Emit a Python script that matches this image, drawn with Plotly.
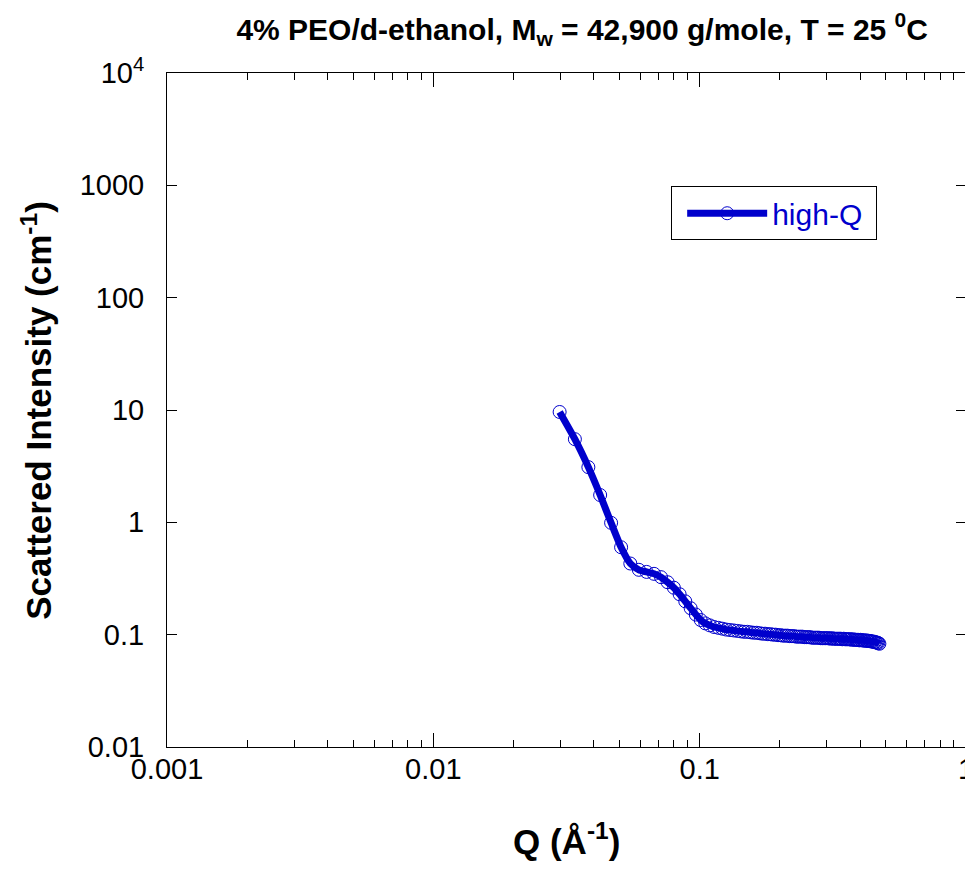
import plotly.graph_objects as go

# Data
q_values = [
    0.0298, 0.0340, 0.0382, 0.0423, 0.0465, 0.0507, 0.0549, 0.0591, 0.0632, 0.0674,
    0.0716, 0.0758, 0.0800, 0.0841, 0.0883, 0.0925, 0.0967, 0.1009, 0.1050, 0.1092,
    0.1134, 0.1176, 0.1218, 0.1259, 0.1301, 0.1343, 0.1385, 0.1427, 0.1468, 0.1510,
    0.1552, 0.1594, 0.1636, 0.1677, 0.1719, 0.1761, 0.1803, 0.1845, 0.1886, 0.1928,
    0.1970, 0.2012, 0.2054, 0.2095, 0.2137, 0.2179, 0.2221, 0.2263, 0.2304, 0.2346,
    0.2388, 0.2430, 0.2472, 0.2513, 0.2555, 0.2597, 0.2639, 0.2681, 0.2722, 0.2764,
    0.2806, 0.2848, 0.2890, 0.2931, 0.2973, 0.3015, 0.3057, 0.3099, 0.3140, 0.3182,
    0.3224, 0.3266, 0.3308, 0.3349, 0.3391, 0.3433, 0.3475, 0.3517, 0.3558, 0.3600,
    0.3642, 0.3684, 0.3726, 0.3767, 0.3809, 0.3851, 0.3893, 0.3935, 0.3976, 0.4018,
    0.4060, 0.4102, 0.4144, 0.4185, 0.4227, 0.4269, 0.4311, 0.4353, 0.4394, 0.4436,
    0.4478, 0.4520, 0.4562, 0.4603, 0.4645, 0.4687, 0.4729,
]
intensity = [
    9.6, 5.5, 3.1, 1.75, 0.99, 0.60, 0.43, 0.378, 0.362, 0.348,
    0.325, 0.293, 0.262, 0.229, 0.198, 0.172, 0.151, 0.135, 0.126, 0.121,
    0.117, 0.115, 0.113, 0.111, 0.110, 0.109, 0.108, 0.107, 0.106, 0.106,
    0.105, 0.104, 0.104, 0.103, 0.102, 0.102, 0.101, 0.101, 0.100, 0.100,
    0.099, 0.099, 0.098, 0.098, 0.098, 0.097, 0.097, 0.097, 0.096, 0.096,
    0.096, 0.096, 0.095, 0.095, 0.095, 0.095, 0.094, 0.094, 0.094, 0.094,
    0.094, 0.093, 0.093, 0.093, 0.093, 0.093, 0.093, 0.092, 0.093, 0.092,
    0.092, 0.092, 0.092, 0.092, 0.092, 0.091, 0.092, 0.091, 0.091, 0.091,
    0.091, 0.091, 0.090, 0.091, 0.090, 0.090, 0.090, 0.090, 0.089, 0.090,
    0.089, 0.089, 0.089, 0.088, 0.089, 0.088, 0.088, 0.088, 0.087, 0.087,
    0.087, 0.086, 0.086, 0.085, 0.085, 0.084, 0.083,
]
series_name = "high-Q"

x_tickvals = [0.001, 0.01, 0.1, 1]
x_ticktext = ["0.001", "0.01", "0.1", "1"]
x_minor = [m * d for d in (0.001, 0.01, 0.1) for m in range(2, 10)]
y_tickvals = [0.01, 0.1, 1, 10, 100, 1000, 10000]
y_ticktext = ["0.01", "0.1", "1", "10", "100", "1000", "10<sup>4</sup>"]

BLUE = "#0000CC"
FONT = "Liberation Sans, Arial, sans-serif"

fig = go.Figure()
fig.add_trace(go.Scatter(
    x=q_values, y=intensity, mode="markers", showlegend=False,
    marker=dict(symbol="circle-open", size=13, color=BLUE, line=dict(width=1, color=BLUE)),
))
fig.add_trace(go.Scatter(
    x=q_values, y=intensity, mode="lines", showlegend=False,
    line=dict(color=BLUE, width=7, shape="spline", smoothing=0.6),
))
fig.add_trace(go.Scatter(
    x=[None], y=[None], mode="lines+markers", name=series_name + "\u00a0",
    line=dict(color=BLUE, width=7),
    marker=dict(symbol="circle-open", size=13, color=BLUE, line=dict(width=1, color=BLUE)),
))

# the page body adds an 8px margin, so the figure is sized to fit the window
fig.update_layout(
    width=965, height=861,
    margin=dict(l=159, r=7, t=65, b=122),
    paper_bgcolor="white", plot_bgcolor="white",
    font=dict(family=FONT, color="black", size=29),
    title=dict(
        text="<b>4% PEO/d-ethanol, M<sub>w</sub> = 42,900 g/mole, T = 25 <sup>0</sup>C</b>",
        x=0.595, xanchor="center", y=0.975, yanchor="middle",
        font=dict(family=FONT, size=30, color="black"),
    ),
    showlegend=True,
    legend=dict(
        x=0.631, y=0.832, xanchor="left", yanchor="top",
        bordercolor="black", borderwidth=1, bgcolor="white",
        font=dict(family=FONT, size=30, color=BLUE),
        itemwidth=80, indentation=10,
    ),
    annotations=[
        dict(text="<b>Q (Å<sup>-1</sup>)</b>", xref="paper", yref="paper",
             x=0.5, y=-0.136, xanchor="center", yanchor="middle", showarrow=False,
             font=dict(family=FONT, size=35, color="black")),
        dict(text="<b>Scattered Intensity (cm<sup>-1</sup>)</b>", xref="paper", yref="paper",
             x=-0.163, y=0.5, xanchor="center", yanchor="middle", showarrow=False,
             textangle=-90, font=dict(family=FONT, size=35, color="black")),
    ],
)
fig.update_xaxes(
    type="log", range=[-3, 0], automargin=False,
    tickvals=x_tickvals, ticktext=x_ticktext,
    ticks="inside", ticklen=14, tickwidth=1, tickcolor="black",
    minor=dict(tickvals=x_minor, ticks="inside", ticklen=7, tickwidth=1, tickcolor="black", showgrid=False),
    showline=True, linecolor="black", linewidth=1, mirror="allticks",
    showgrid=False, zeroline=False, ticklabelstandoff=-4,
    ticklabeloverflow="allow",
    tickfont=dict(family=FONT, size=29, color="black"),
)
fig.update_yaxes(
    type="log", range=[-2, 4], automargin=False,
    tickvals=y_tickvals, ticktext=y_ticktext,
    ticks="inside", ticklen=10, tickwidth=1, tickcolor="black",
    showline=True, linecolor="black", linewidth=1, mirror="allticks",
    showgrid=False, zeroline=False, ticklabelstandoff=16,
    tickfont=dict(family=FONT, size=29, color="black"),
)

fig.write_html("out.html")
